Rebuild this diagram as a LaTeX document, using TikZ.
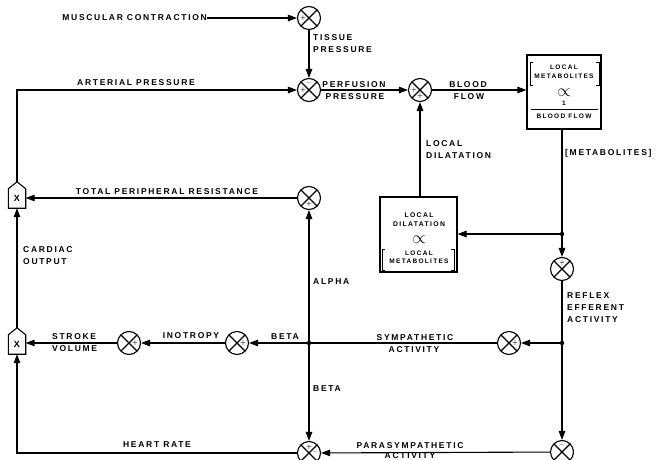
\documentclass[tikz,border=0pt]{standalone}
\usepackage{fontspec}
\newfontfamily\lblfont[LetterSpace=20]{Liberation Sans}
\usetikzlibrary{arrows.meta,calc}
\tikzset{
 lab/.style={font=\lblfont\bfseries\fontsize{8.5}{12}\selectfont, inner sep=0pt},
 blab/.style={font=\lblfont\bfseries\fontsize{6.5}{8.5}\selectfont, inner sep=0pt},
 mlab/.style={font=\lblfont\bfseries\fontsize{6.8}{9}\selectfont, inner sep=0pt},
 prop/.style={font=\LARGE, inner sep=0pt},
 sumj/.style={circle, draw, line width=1.1pt, minimum size=23pt, inner sep=0pt,
   path picture={\draw[line width=1.1pt] (path picture bounding box.north west) -- (path picture bounding box.south east)
     (path picture bounding box.north east) -- (path picture bounding box.south west);}},
 sgn/.style={font=\fontsize{5.5}{5.5}\selectfont\bfseries, inner sep=0pt},
 dotj/.style={circle, fill, minimum size=4.5pt, inner sep=0pt},
 arr/.style={-{Triangle[length=9pt,width=6.5pt]}},
 conn/.style={line width=1.1pt},
 house/.style={minimum width=17pt, minimum height=26pt, inner sep=0pt, font=\lblfont\bfseries\fontsize{9}{9}\selectfont},
 bigbox/.style={draw, line width=1.1pt, inner sep=0pt},
 brk/.style={line width=0.8pt},
}
\begin{document}
\begin{tikzpicture}[x=1pt,y=-1pt]
\useasboundingbox (0,0) rectangle (666,460);
% junctions
\node[sumj, label={[sgn,xshift=-6pt]center:+}] (mc) at (309,18) {};
\node[sumj, label={[sgn,xshift=-6pt]center:+}, label={[sgn,yshift=6pt]center:--}] (pp) at (309,90) {};
\node[sumj, label={[sgn,xshift=-6pt]center:+}, label={[sgn,yshift=-6pt]center:+}] (bf) at (420,90) {};
\node[bigbox, minimum width=74pt, minimum height=74pt] (lm) at (564,92) {};
\node[dotj] (met) at (562,234) {};
\node[bigbox, minimum width=77pt, minimum height=75pt] (ld) at (418.5,234.5) {};
\node[sumj, label={[sgn,yshift=6pt]center:+}] (refl) at (562,269) {};
\node[dotj] (sj) at (562,343) {};
\node[sumj, label={[sgn,xshift=6pt]center:+}] (symc) at (509,343) {};
\node[sumj, label={[sgn,yshift=6pt]center:--}] (para) at (562,452) {};
\node[dotj] (bj) at (309,343) {};
\node[sumj, label={[sgn,yshift=-6pt]center:+}] (tpr) at (309,198) {};
\node[sumj, label={[sgn,yshift=6pt]center:+}, label={[sgn,xshift=6pt]center:--}] (hr) at (309,453) {};
\node[sumj, label={[sgn,xshift=6pt]center:+}] (ino2) at (237,343) {};
\node[sumj, label={[sgn,xshift=6pt]center:+}] (ino1) at (129,343) {};
\node[house] (co) at (17,195) {};
\node[house] (sv) at (17,341) {};
\node[house, minimum width=0pt, minimum height=0pt] (cox) at (17,198.5) {X};
\node[house, minimum width=0pt, minimum height=0pt] (svx) at (17,344.5) {X};
\draw[conn] (co.south west) -- ([yshift=-7pt]co.north west) -- (co.north) -- ([yshift=-7pt]co.north east) -- (co.south east) -- cycle;
\draw[conn] (sv.south west) -- ([yshift=-7pt]sv.north west) -- (sv.north) -- ([yshift=-7pt]sv.north east) -- (sv.south east) -- cycle;
% box contents
\node[blab, align=center] (lm1) at (564,72) {LOCAL\\METABOLITES};
\draw[brk] (533,62) -- (530,62) -- (530,85) -- (533,85);
\draw[brk] (596,62) -- (599,62) -- (599,85) -- (596,85);
\node[prop] (lm3) at (564,93) {$\propto$};
\node[blab] (lm4) at (564,103) {1};
\draw[brk] (531,109) -- (598,109);
\node[blab] (lm5) at (564,116) {BLOOD FLOW};
\node[mlab, align=center] (ld1) at (419,219.5) {LOCAL\\DILATATION};
\node[prop] (ld3) at (419,240) {$\propto$};
\node[blab, align=center] (ld4) at (419,257.5) {LOCAL\\METABOLITES};
\draw[brk] (385,249) -- (382,249) -- (382,270) -- (385,270);
\draw[brk] (451,249) -- (454,249) -- (454,270) -- (451,270);
% labels
\node[lab, anchor=east] (mctext) at (207,18) {MUSCULAR CONTRACTION};
\node[lab, align=left, anchor=west] (tisl) at (313,44) {TISSUE\\PRESSURE};
\node[lab] (apl) at (136,83) {ARTERIAL PRESSURE};
\node[lab] (pfl1) at (354,85) {PERFUSION};
\node[lab] (pfl2) at (355,97) {PRESSURE};
\node[lab] (bfl1) at (468,85) {BLOOD};
\node[lab] (bfl2) at (469,97) {FLOW};
\node[lab, align=left, anchor=west] (ldl) at (426,150) {LOCAL\\DILATATION};
\node[lab, anchor=west] (metl) at (565,153) {[METABOLITES]};
\node[font=\fontsize{5}{5}\selectfont\bfseries, inner sep=0pt] (metdot) at (606,145) {$\cdot$};
\node[lab] (tprl) at (167,192) {TOTAL PERIPHERAL RESISTANCE};
\node[lab, align=left, anchor=west] (col) at (23,256) {CARDIAC\\OUTPUT};
\node[lab, anchor=west] (alphal) at (313,282) {ALPHA};
\node[lab, align=left, anchor=west] (refll) at (567,308) {REFLEX\\EFFERENT\\ACTIVITY};
\node[lab] (syml1) at (415,338) {SYMPATHETIC};
\node[lab] (syml2) at (414,350) {ACTIVITY};
\node[lab, align=left, anchor=west] (svl) at (52,343) {STROKE\\VOLUME};
\node[lab] (inol) at (191,336) {INOTROPY};
\node[lab] (betal1) at (285,337) {BETA};
\node[lab, anchor=west] (betal2) at (313,389) {BETA};
\node[lab] (hrl) at (157,445) {HEART RATE};
\node[lab] (pal1) at (410,446) {PARASYMPATHETIC};
\node[lab] (pal2) at (410,456) {ACTIVITY};
% connectors
\draw[conn,arr] (mctext.east) -- (mc);
\draw[conn,arr] (mc) -- (pp);
\draw[conn,arr] (co.north) |- (pp);
\draw[conn,arr] (pp) -- (bf);
\draw[conn,arr] (bf) -- (bf -| lm.west);
\draw[conn] (lm.south -| met) -- (met);
\draw[conn,arr] (met) -- (refl);
\draw[conn,arr] (met) -- (met -| ld.east);
\draw[conn,arr] (ld.north -| bf) -- (bf);
\draw[conn] (refl) -- (sj);
\draw[conn,arr] (sj) -- (symc);
\draw[conn,arr] (sj) -- (para);
\draw[conn] (symc) -- (bj);
\draw[conn,arr] (bj) -- (ino2);
\draw[conn,arr] (ino2) -- (ino1);
\draw[conn,arr] (ino1) -- (ino1 -| sv.east);
\draw[conn,arr] (sv.north) -- (co.south);
\draw[conn,arr] (bj) -- (tpr);
\draw[conn,arr] (tpr) -- (tpr -| co.east);
\draw[conn,arr] (bj) -- (hr);
\draw[conn,arr] (para) -- (hr);
\draw[conn,arr] (hr) -| (sv.south);
\end{tikzpicture}
\end{document}
